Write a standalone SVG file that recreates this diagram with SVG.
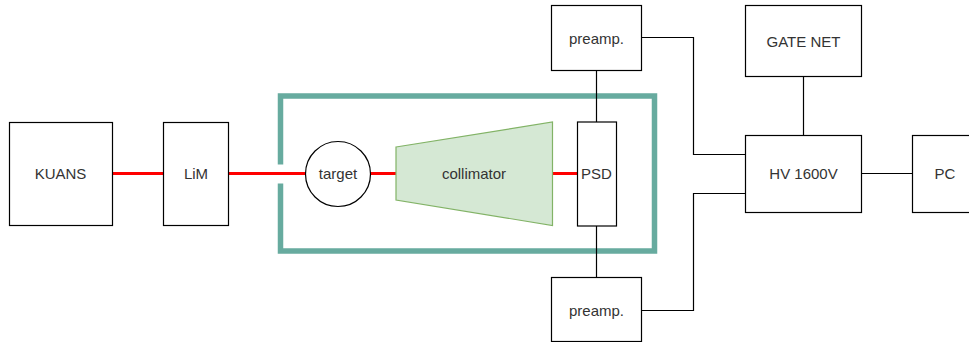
<svg xmlns="http://www.w3.org/2000/svg" width="969" height="342" viewBox="0 0 969 342">
<style>
.box{fill:#fff;stroke:#000;stroke-width:1.2}
.lbl{font-family:"Liberation Sans",Arial,sans-serif;font-size:15px;fill:#333;text-anchor:middle;dominant-baseline:central}
.beam{stroke:#ff0000;stroke-width:3;fill:none}
.wire{stroke:#000;stroke-width:1.2;fill:none}
</style>
<rect width="969" height="342" fill="#fff"/>
<g id="chamber">
<path d="M280.5 164.5 V96 H654.5 V251 H280.5 V183.5" fill="none" stroke="#67AB9F" stroke-width="5.5"/>
</g>
<g id="connectors">
<line class="beam" x1="112.5" y1="173.5" x2="163.5" y2="173.5"/>
<line class="beam" x1="228.5" y1="173.5" x2="305.5" y2="173.5"/>
<line class="beam" x1="370.5" y1="173.5" x2="396" y2="173.5"/>
<line class="beam" x1="552.5" y1="173.5" x2="577.5" y2="173.5"/>
<line class="wire" x1="596.5" y1="70.5" x2="596.5" y2="122"/>
<line class="wire" x1="596.5" y1="226" x2="596.5" y2="277.5"/>
<polyline class="wire" points="641.5,37.5 693.5,37.5 693.5,154.5 745.5,154.5"/>
<polyline class="wire" points="641.5,310.5 693.5,310.5 693.5,193.5 745.5,193.5"/>
<line class="wire" x1="803.5" y1="76.5" x2="803.5" y2="135.5"/>
<line class="wire" x1="861.5" y1="173.5" x2="912.5" y2="173.5"/>
</g>
<g id="kuans"><rect class="box" x="9.5" y="122.5" width="103" height="103"/><text class="lbl" x="60.5" y="173.5">KUANS</text></g>
<g id="lim"><rect class="box" x="163.5" y="122.5" width="65" height="103"/><text class="lbl" x="196" y="173.5">LiM</text></g>
<g id="target"><circle cx="338" cy="174" r="32.5" fill="#fff" stroke="#000" stroke-width="1.2"/><text class="lbl" x="338" y="173.5">target</text></g>
<g id="collimator"><polygon points="396,147 552.5,122 552.5,225.5 396,200" fill="#d5e8d4" stroke="#82b366" stroke-width="1.2"/><text class="lbl" x="474" y="173.5">collimator</text></g>
<g id="psd"><rect class="box" x="577.5" y="122" width="39" height="104"/><text class="lbl" x="596.5" y="173.5">PSD</text></g>
<g id="preamp-top"><rect class="box" x="551.5" y="5.5" width="90" height="65"/><text class="lbl" x="596.5" y="38">preamp.</text></g>
<g id="preamp-bottom"><rect class="box" x="551.5" y="277.5" width="90" height="64"/><text class="lbl" x="596.5" y="310">preamp.</text></g>
<g id="gate-net"><rect class="box" x="745.5" y="5.5" width="116" height="71"/><text class="lbl" x="803.5" y="41">GATE NET</text></g>
<g id="hv"><rect class="box" x="745.5" y="135.5" width="116" height="77"/><text class="lbl" x="803.5" y="173.5">HV 1600V</text></g>
<g id="pc"><rect class="box" x="912.5" y="135.5" width="70" height="77"/><text class="lbl" x="945" y="173.5">PC</text></g>
</svg>
